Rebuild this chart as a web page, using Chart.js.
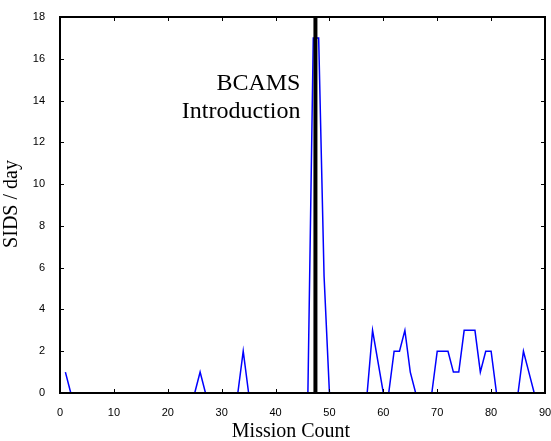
<!DOCTYPE html>
<html>
<head>
<meta charset="utf-8">
<script src="https://cdn.jsdelivr.net/npm/chart.js@4/dist/chart.umd.min.js"></script>
<style>
  html, body { margin: 0; padding: 0; background: #fff; }
  #wrap { width: 551px; height: 441px; }
</style>
</head>
<body>
<div id="wrap"><canvas id="sidsChart" width="551" height="441"></canvas></div>
<script>
// mission numbers (x) and SIDS per day (y)
const missions = [
    1, 2, 3, 4, 5, 6, 7, 8, 9, 10,
    11, 12, 13, 14, 15, 16, 17, 18, 19, 20,
    21, 22, 23, 24, 25, 26, 27, 28, 29, 30,
    31, 32, 33, 34, 35, 36, 37, 38, 39, 40,
    41, 42, 43, 44, 45, 46, 47, 48, 49, 50,
    51, 52, 53, 54, 55, 56, 57, 58, 59, 60,
    61, 62, 63, 64, 65, 66, 67, 68, 69, 70,
    71, 72, 73, 74, 75, 76, 77, 78, 79, 80,
    81, 82, 83, 84, 85, 86, 87, 88
];
const sidsPerDay = [
    1, 0, 0, 0, 0, 0, 0, 0, 0, 0,
    0, 0, 0, 0, 0, 0, 0, 0, 0, 0,
    0, 0, 0, 0, 0, 1, 0, 0, 0, 0,
    0, 0, 0, 2, 0, 0, 0, 0, 0, 0,
    0, 0, 0, 0, 0, 0, 17, 17, 5.6, 0,
    0, 0, 0, 0, 0, 0, 0, 3, 1.5, 0,
    0, 2, 2, 3, 1, 0, 0, 0, 0, 2,
    2, 2, 1, 1, 3, 3, 3, 1, 2, 2,
    0, 0, 0, 0, 0, 2, 1, 0
];
const introMission = 47.4;
const introLabel = ['BCAMS', 'Introduction'];
const xTickValues = [0, 10, 20, 30, 40, 50, 60, 70, 80, 90];
const yTickValues = [0, 2, 4, 6, 8, 10, 12, 14, 16, 18];
const xTitle = 'Mission Count';
const yTitle = 'SIDS / day';

const serif = '"Liberation Serif", "Times New Roman", serif';
const sans = '"Liberation Sans", Arial, sans-serif';

// box, inward ticks and the text labels
const framePlugin = {
    id: 'frame',
    afterDraw(chart) {
        const ctx = chart.ctx;
        const a = chart.chartArea;
        const xs = chart.scales.x;
        const ys = chart.scales.y;
        ctx.save();
        ctx.strokeStyle = '#000';
        ctx.lineWidth = 1;
        ctx.beginPath();
        xTickValues.forEach(v => {
            const px = Math.round(xs.getPixelForValue(v)) + 0.5;
            ctx.moveTo(px, a.bottom); ctx.lineTo(px, a.bottom - 4);
            ctx.moveTo(px, a.top); ctx.lineTo(px, a.top + 4);
        });
        yTickValues.forEach(v => {
            const py = Math.round(ys.getPixelForValue(v)) + 0.5;
            ctx.moveTo(a.left, py); ctx.lineTo(a.left + 4, py);
            ctx.moveTo(a.right, py); ctx.lineTo(a.right - 4, py);
        });
        ctx.stroke();
        ctx.lineWidth = 2;
        ctx.strokeRect(a.left, a.top, a.right - a.left, a.bottom - a.top);

        // annotation next to the intro line
        ctx.fillStyle = '#000';
        ctx.font = '24px ' + serif;
        ctx.textAlign = 'right';
        ctx.textBaseline = 'alphabetic';
        const tx = xs.getPixelForValue(introMission) - 15;
        ctx.fillText(introLabel[0], tx, 90);
        ctx.fillText(introLabel[1], tx, 118);

        // axis titles
        ctx.font = '20px ' + serif;
        ctx.textAlign = 'center';
        ctx.fillText(xTitle, 291, 437);
        ctx.translate(17, 204);
        ctx.rotate(-Math.PI / 2);
        ctx.fillText(yTitle, 0, 0);
        ctx.restore();
    }
};

new Chart(document.getElementById('sidsChart'), {
    type: 'line',
    data: {
        datasets: [{
            label: 'intro',
            data: [{ x: introMission, y: 0 }, { x: introMission, y: 18 }],
            borderColor: '#000',
            borderWidth: 4,
            pointRadius: 0,
            order: 0
        }, {
            label: 'SIDS / day',
            data: missions.map((m, i) => ({ x: m, y: sidsPerDay[i] })),
            borderColor: '#0000ff',
            borderWidth: 1.5,
            pointRadius: 0,
            tension: 0,
            order: 1
        }]
    },
    options: {
        responsive: false,
        animation: false,
        layout: { padding: { top: 17, right: 6, left: 0, bottom: 0 } },
        plugins: {
            legend: { display: false },
            tooltip: { enabled: false }
        },
        scales: {
            x: {
                type: 'linear',
                min: 0,
                max: 90,
                afterBuildTicks: s => { s.ticks = xTickValues.map(v => ({ value: v })); },
                afterFit: s => { s.height = 48; s.paddingLeft = 0; s.paddingRight = 0; },
                grid: { display: false },
                border: { display: false },
                ticks: { color: '#000', font: { family: sans, size: 11 }, padding: 5, maxRotation: 0 }
            },
            y: {
                min: 0,
                max: 18,
                afterBuildTicks: s => { s.ticks = yTickValues.map(v => ({ value: v })); },
                afterFit: s => { s.width = 60; s.paddingTop = 0; s.paddingBottom = 0; },
                grid: { display: false },
                border: { display: false },
                ticks: { color: '#000', font: { family: sans, size: 11 }, padding: 7 }
            }
        }
    },
    plugins: [framePlugin]
});
</script>
</body>
</html>
